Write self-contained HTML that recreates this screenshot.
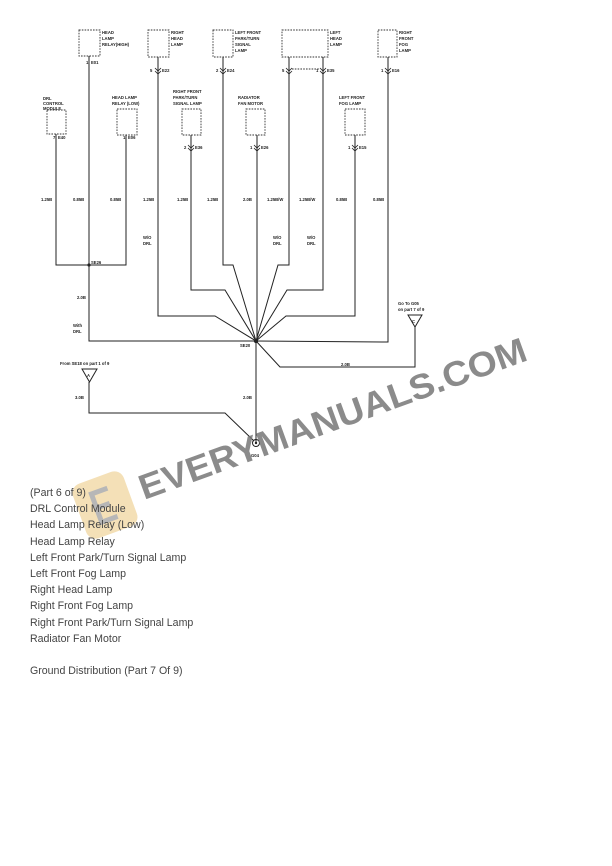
<!DOCTYPE html>
<html><head><meta charset="utf-8"><style>
html,body{margin:0;padding:0;background:#fff;width:612px;height:866px;overflow:hidden}
svg{position:absolute;left:0;top:0}
.t{font-family:"Liberation Sans",sans-serif;font-size:4.2px;font-weight:bold;fill:#222}
.list{position:absolute;left:30px;top:485px;font-family:"Liberation Sans",sans-serif;font-size:10.6px;color:#444;line-height:16.2px}
</style></head><body>
<svg width="612" height="866" viewBox="0 0 612 866">
<g fill="none" stroke="#333" stroke-width="0.9" stroke-dasharray="1.6,1.2">
<rect x="79" y="30" width="21" height="26"/>
<rect x="148" y="30" width="21" height="27"/>
<rect x="213" y="30" width="20" height="27"/>
<rect x="282" y="30" width="46" height="27"/>
<rect x="378" y="30" width="19" height="27"/>
<rect x="47" y="110" width="19" height="24"/>
<rect x="117" y="109" width="20" height="26"/>
<rect x="182" y="109" width="19" height="26"/>
<rect x="246" y="109" width="19" height="26"/>
<rect x="345" y="109" width="20" height="26"/>
<line x1="292" y1="69" x2="320" y2="69"/>
</g>
<g fill="none" stroke="#222" stroke-width="1">
<polyline points="56,134 56,265 126,265 126,135"/>
<polyline points="89,56 89,341 256,341"/>
<polyline points="158,57 158,316 215,316 256,341"/>
<polyline points="191,135 191,290 225,290 256,341"/>
<polyline points="223,57 223,265 233,265 256,341"/>
<polyline points="257,135 257,341"/>
<polyline points="289,57 289,265 278,265 256,341"/>
<polyline points="323,57 323,290 287,290 256,341"/>
<polyline points="355,135 355,316 286,316 256,341"/>
<polyline points="388,57 388,342 256,341"/>
<polyline points="256,341 280,367 415,367 415,327"/>
<polyline points="256,341 256,443"/>
<polyline points="89,382 89,413 225,413 254,441"/>
<polygon points="408,315 422,315 415,327"/>
<polygon points="82,369 97,369 89.5,382"/>
<circle cx="256" cy="443" r="3.5"/>
</g>
<g fill="#222">
<circle cx="89" cy="265" r="1.6"/><circle cx="256" cy="341" r="2.2"/><circle cx="256" cy="443" r="1.2"/>
</g>
<g fill="none" stroke="#222" stroke-width="0.8">
<path d="M155,68 l3,3 l3,-3 M155,71 l3,3 l3,-3"/>
<path d="M220,68 l3,3 l3,-3 M220,71 l3,3 l3,-3"/>
<path d="M286,68 l3,3 l3,-3 M286,71 l3,3 l3,-3"/>
<path d="M320,68 l3,3 l3,-3 M320,71 l3,3 l3,-3"/>
<path d="M385,68 l3,3 l3,-3 M385,71 l3,3 l3,-3"/>
<path d="M188,145 l3,3 l3,-3 M188,148 l3,3 l3,-3"/>
<path d="M254,145 l3,3 l3,-3 M254,148 l3,3 l3,-3"/>
<path d="M352,145 l3,3 l3,-3 M352,148 l3,3 l3,-3"/>
</g>
<g class="t">
<text x="102" y="34">HEAD</text><text x="102" y="40">LAMP</text><text x="102" y="46">RELAY(HIGH)</text>
<text x="171" y="34">RIGHT</text><text x="171" y="40">HEAD</text><text x="171" y="46">LAMP</text>
<text x="235" y="34">LEFT FRONT</text><text x="235" y="40">PARK/TURN</text><text x="235" y="46">SIGNAL</text><text x="235" y="52">LAMP</text>
<text x="330" y="34">LEFT</text><text x="330" y="40">HEAD</text><text x="330" y="46">LAMP</text>
<text x="399" y="34">RIGHT</text><text x="399" y="40">FRONT</text><text x="399" y="46">FOG</text><text x="399" y="52">LAMP</text>
<text x="43" y="100">DRL</text><text x="43" y="105">CONTROL</text><text x="43" y="110">MODULE</text>
<text x="112" y="99">HEAD LAMP</text><text x="112" y="105">RELAY (LOW)</text>
<text x="173" y="93">RIGHT FRONT</text><text x="173" y="99">PARK/TURN</text><text x="173" y="105">SIGNAL LAMP</text>
<text x="238" y="99">RADIATOR</text><text x="238" y="105">FAN MOTOR</text>
<text x="339" y="99">LEFT FRONT</text><text x="339" y="105">FOG LAMP</text>
<text x="86" y="64">1</text><text x="91" y="64">E01</text>
<text x="150" y="72">5</text><text x="162" y="72">E22</text>
<text x="216" y="72">2</text><text x="227" y="72">E24</text>
<text x="282" y="72">5</text><text x="316" y="72">1</text><text x="327" y="72">E35</text>
<text x="381" y="72">1</text><text x="392" y="72">E16</text>
<text x="53" y="139">7</text><text x="58" y="139">E40</text>
<text x="123" y="139">1</text><text x="128" y="139">E06</text>
<text x="184" y="149">2</text><text x="195" y="149">E36</text>
<text x="250" y="149">1</text><text x="261" y="149">E26</text>
<text x="348" y="149">1</text><text x="359" y="149">E15</text>
<text x="41" y="201">1.25B</text><text x="73" y="201">0.85B</text><text x="110" y="201">0.85B</text><text x="143" y="201">1.25B</text><text x="177" y="201">1.25B</text><text x="207" y="201">1.25B</text><text x="243" y="201">2.0B</text><text x="267" y="201">1.25B/W</text><text x="299" y="201">1.25B/W</text><text x="336" y="201">0.85B</text><text x="373" y="201">0.85B</text>
<text x="143" y="239">W/O</text><text x="143" y="245">DRL</text>
<text x="273" y="239">W/O</text><text x="273" y="245">DRL</text>
<text x="307" y="239">W/O</text><text x="307" y="245">DRL</text>
<text x="91" y="264">SE26</text>
<text x="77" y="299">2.0B</text>
<text x="73" y="327">With</text><text x="73" y="333">DRL</text>
<text x="240" y="347">SE20</text>
<text x="398" y="305">Go To G05</text><text x="398" y="311">on part 7 of 9</text>
<text x="412" y="323">C</text>
<text x="341" y="366">2.0B</text>
<text x="60" y="365">From SE18 on part 1 of 9</text>
<text x="87" y="377">A</text>
<text x="75" y="399">3.0B</text><text x="243" y="399">2.0B</text>
<text x="251" y="457">G04</text>
</g>
<g transform="translate(105,505) rotate(-20)" opacity="0.7">
<rect x="-27" y="-29" width="54" height="58" rx="10" fill="#f0d49a"/>
<path d="M8,-15 L-9,-15 L-9,15 L8,15 M-9,0 L5,0" stroke="#999" stroke-width="5" fill="none"/>
</g>
<text x="0" y="0" transform="translate(144,500) rotate(-20)" font-family="Liberation Sans,sans-serif" font-weight="bold" font-size="35" fill="#777" opacity="0.85" textLength="410" lengthAdjust="spacingAndGlyphs">EVERYMANUALS.COM</text>
</svg>
<div class="list">(Part 6 of 9)<br>DRL Control Module<br>Head Lamp Relay (Low)<br>Head Lamp Relay<br>Left Front Park/Turn Signal Lamp<br>Left Front Fog Lamp<br>Right Head Lamp<br>Right Front Fog Lamp<br>Right Front Park/Turn Signal Lamp<br>Radiator Fan Motor<br><br>Ground Distribution (Part 7 Of 9)</div>
</body></html>
